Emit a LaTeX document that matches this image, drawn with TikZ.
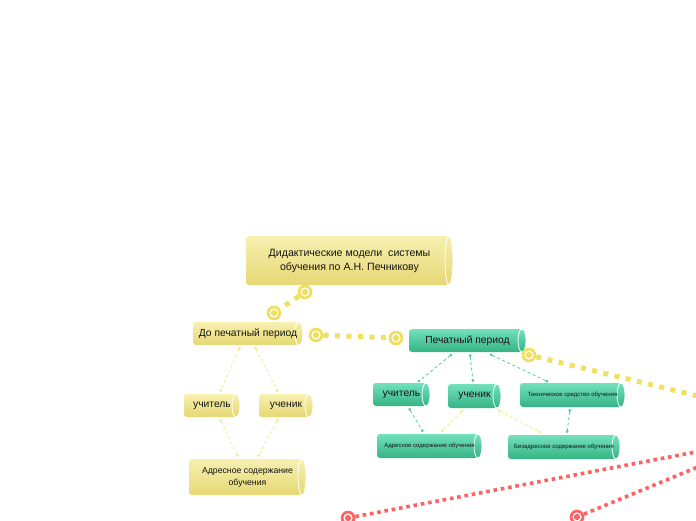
\documentclass[tikz,border=0pt]{standalone}
\usepackage{fontspec}
\setmainfont{Liberation Sans}
\usetikzlibrary{calc,arrows.meta}
\definecolor{ytop}{HTML}{F7F0B0}
\definecolor{ybot}{HTML}{E6D874}
\definecolor{gtop}{HTML}{72E1BE}
\definecolor{gbot}{HTML}{36B384}
\definecolor{ringy}{HTML}{EEDF5C}
\definecolor{ydot}{HTML}{EFE263}
\definecolor{rdot}{HTML}{FF6262}
\definecolor{gdash}{HTML}{4ECFA2}
\definecolor{ydash}{HTML}{F2EA8E}
\definecolor{txt}{HTML}{141414}
\tikzset{
  boxtext/.style={align=center, inner sep=0pt, text=txt},
  ringnode/.style={circle, fill=#1, minimum size=14.6pt, inner sep=0pt,
    path picture={\fill[white] (path picture bounding box.center) circle (4.6pt);
                  \fill[#1] (path picture bounding box.center) circle (3.1pt);}},
  thickdot/.style={line width=5pt, ydot, dash pattern=on 5pt off 6.5pt},
  reddot/.style={line width=3.6pt, rdot, dash pattern=on 3.6pt off 3.8pt},
  thinlink/.style={line width=0.8pt, dash pattern=on 3pt off 2.6pt,
    {Circle[length=2.8pt]}-{Circle[length=2.8pt]}},
  glink/.style={thinlink, gdash},
  ylink/.style={thinlink, ydash},
  bigfont/.style={font=\fontsize{10.6}{13.8}\selectfont},
  midfont/.style={font=\fontsize{10.3}{12}\selectfont},
  smallfont/.style={font=\fontsize{6}{7.5}\selectfont},
}
\newcommand\cylbox[8]{%
  \shade[top color=#2top, bottom color=#2bot, rounded corners=3] (#3,#4) rectangle ({#5-4},#6);
  \shade[top color=#2top, bottom color=#2bot] ({#5-4},{(#4+#6)/2}) ellipse [x radius=4, y radius={(#6-#4)/2}];
  \draw[white, line width=0.8pt] ({#5-4},{(#4+#6)/2}) ellipse [x radius=4, y radius={(#6-#4)/2}];
  \node[boxtext, #7, minimum width={#5-#3}, minimum height={#6-#4}] (#1) at ({(#3+#5)/2},{(#4+#6)/2}) {#8};
}
\begin{document}
\begin{tikzpicture}[x=1pt, y=-1pt]
\clip (0,0) rectangle (696,520);
\fill[white] (0,0) rectangle (696,520);

% boxes
\cylbox{main}{y}{246}{236}{453}{285}{bigfont}{\raisebox{5pt}{\begin{tabular}{@{}c@{}}Дидактические модели\ \ системы\\обучения по А.Н. Печникову\end{tabular}}}
\cylbox{dp}{y}{193}{322}{303}{345}{midfont}{До печатный период}
\cylbox{pp}{g}{409}{329}{526}{352}{midfont}{Печатный период}
\cylbox{yu}{y}{184}{394}{240}{417}{midfont}{учитель}
\cylbox{yk}{y}{259}{394}{313}{417}{midfont}{ученик}
\cylbox{ya}{y}{189}{459}{306}{495}{font=\fontsize{8.7}{12}\selectfont}{Адресное содержание\\обучения}
\cylbox{gu}{g}{373}{383}{430}{406}{midfont}{учитель}
\cylbox{gk}{g}{448}{384}{501}{408}{midfont}{ученик}
\cylbox{gt}{g}{520}{383}{625}{407}{smallfont}{Техническое средство обучения}
\cylbox{ga}{g}{377}{434}{482}{458}{smallfont}{Адресное содержание обучения}
\cylbox{gb}{g}{508}{435}{620}{459}{smallfont}{Безадресное содержание обучения}

% rings
\node[ringnode=ringy] (r1) at (305,292) {};
\node[ringnode=ringy] (r2) at (274,313) {};
\node[ringnode=ringy] (r3) at (316,335) {};
\node[ringnode=ringy] (r4) at (396,338) {};
\node[ringnode=ringy] (r5) at (529,355) {};
\node[ringnode=rdot] (q1) at (348,518) {};
\node[ringnode=rdot] (q2) at (577,517) {};
\coordinate (e1) at (780,416);
\coordinate (e2) at (780,436);
\coordinate (e3) at (780,433);

% thick dotted connectors
\draw[thickdot] (r1) -- (r2);
\draw[thickdot] (r3) -- (r4);
\draw[thickdot] (r5) -- (e1);
\draw[reddot] (q1) -- (e2);
\draw[reddot] (q2) -- (e3);

% thin links, yellow subtree
\draw[ylink] ($(dp.south)+(-8,2)$) -- ($(yu.north)+(8,-2)$);
\draw[ylink] ($(dp.south)+(7,2)$) -- ($(yk.north)+(-8,-2)$);
\draw[ylink] ($(yu.south)+(8,2)$) -- ($(ya.north)+(-9.5,-2)$);
\draw[ylink] ($(yk.south)+(-8,2)$) -- ($(ya.north)+(10.5,-2)$);

% thin links, green subtree
\draw[glink] ($(pp.south)+(-15.5,2)$) -- ($(gu.north)+(16.5,-1)$);
\draw[glink] ($(pp.south)+(2.5,2)$) -- ($(gk.north)+(-1.5,-2)$);
\draw[glink] ($(pp.south)+(22.5,2)$) -- ($(gt.north)+(-24.5,-1)$);
\draw[glink] ($(gu.south)+(7.5,2)$) -- ($(ga.north)+(-6.5,-2)$);
\draw[ylink] ($(gk.south)+(-11.5,2)$) -- ($(ga.north)+(11.5,-2)$);
\draw[ylink] ($(gk.south)+(23.5,2)$) -- ($(gb.north)+(-23,-2)$);
\draw[glink] ($(gt.south)+(-2.5,2)$) -- ($(gb.north)+(3,-2)$);
\end{tikzpicture}
\end{document}
